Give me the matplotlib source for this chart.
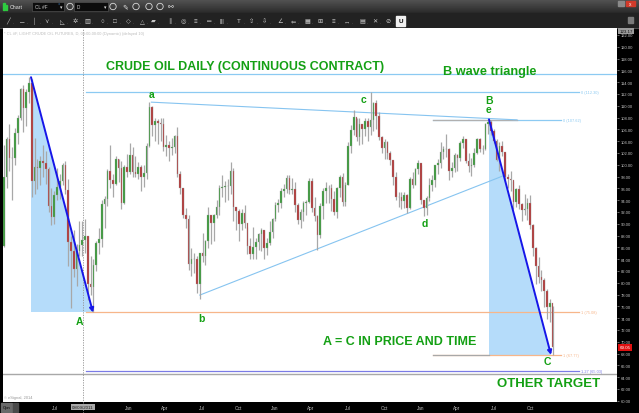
import matplotlib
matplotlib.use("Agg")
import matplotlib.pyplot as plt
import matplotlib.dates as mdates
import matplotlib.transforms as mtransforms
from matplotlib.patches import Rectangle, Polygon, Circle
import numpy as np
import pandas as pd

plt.rcParams["font.family"] = ["Liberation Sans", "DejaVu Sans"]

# ---- weekly bars (week ending Friday) ----
week_end = pd.date_range("2011-02-25", "2014-11-28", freq="W-FRI")
first_open = 86.20
closes = [
    # 2011
    97.88, 104.42, 101.16, 101.07, 105.40, 107.94, 112.79, 109.66, 112.29, 113.93,
    97.18, 99.65, 99.49, 100.59, 100.22, 99.29, 93.01, 91.16, 94.94, 96.20,
    97.24, 99.87, 95.70, 86.88, 85.38, 82.26, 85.37, 86.45, 87.24, 87.96,
    79.85, 79.20, 82.98, 86.80, 87.40, 93.32, 94.26, 98.99, 97.41, 96.77,
    100.96, 99.41, 93.53, 99.68, 98.83,
    # 2012
    101.56, 98.70, 98.46, 99.56, 97.84, 98.67, 103.24, 109.77, 106.70, 107.40,
    107.06, 106.87, 103.02, 103.31, 102.83, 103.05, 104.93, 98.49, 96.13, 91.48,
    90.86, 83.23, 84.10, 84.03, 79.76, 84.96, 84.45, 87.10, 91.44, 90.13,
    91.40, 92.87, 96.01, 96.15, 96.47, 96.42, 98.99, 92.89, 92.19, 89.88,
    91.86, 90.05, 86.28, 84.86, 86.07, 86.92, 88.28, 88.91, 85.93, 86.73,
    88.66, 90.80,
    # 2013
    93.09, 93.56, 95.56, 95.88, 97.77, 95.72, 95.86, 93.13, 90.68, 91.95,
    93.45, 93.71, 97.23, 92.70, 91.29, 88.01, 93.00, 95.61, 96.04, 96.02,
    94.15, 91.97, 96.03, 97.85, 93.69, 96.56, 103.22, 105.95, 108.05, 104.70,
    106.94, 106.03, 107.46, 106.42, 107.65, 110.53, 108.21, 104.67, 102.87, 103.84,
    102.02, 100.81, 97.85, 94.61, 94.60, 93.84, 94.84, 92.72, 97.65, 96.60,
    99.32, 100.32,
    # 2014
    93.96, 92.72, 94.37, 96.64, 97.49, 99.88, 100.30, 102.20, 102.59, 102.58,
    98.89, 99.46, 101.67, 101.14, 103.74, 104.30, 100.60, 99.76, 99.99, 102.02,
    104.35, 102.71, 102.66, 106.91, 107.26, 105.74, 104.06, 100.83, 103.13, 102.09,
    97.88, 97.65, 97.35, 93.65, 95.96, 93.29, 92.27, 92.41, 93.54, 89.74,
    85.82, 82.75, 81.01, 80.54, 78.65, 75.82, 76.51, 69.05,
]
highs = [
    103.41, 104.70, 106.95, 103.00, 106.20, 108.50, 113.00, 113.50, 112.80, 114.83,
    114.50, 104.60, 101.00, 101.50, 103.40, 102.40, 99.60, 96.00, 95.50, 99.50,
    98.50, 100.30, 100.60, 97.50, 88.00, 89.00, 86.50, 90.50, 90.50, 90.80,
    88.00, 84.50, 84.00, 87.00, 89.20, 94.00, 94.70, 99.20, 103.37, 98.40,
    101.50, 101.00, 100.60, 100.00, 101.80,
    103.74, 103.00, 101.50, 100.50, 100.00, 100.00, 103.60, 110.55, 110.00, 108.00,
    107.80, 108.00, 108.00, 105.00, 104.00, 104.50, 105.00, 106.40, 99.00, 96.00,
    92.60, 91.50, 85.80, 85.00, 84.50, 85.00, 88.40, 87.30, 92.90, 91.50,
    91.60, 94.00, 96.50, 98.30, 97.30, 97.50, 100.42, 99.40, 92.90, 92.50,
    92.50, 93.10, 89.50, 87.60, 89.50, 87.50, 88.50, 89.20, 89.00, 87.50,
    90.50, 91.00,
    93.70, 94.20, 96.00, 96.70, 98.20, 98.20, 97.80, 97.00, 93.50, 92.50,
    93.80, 94.00, 97.80, 97.80, 94.50, 91.50, 93.50, 96.00, 97.00, 96.50,
    96.80, 95.60, 96.20, 98.30, 98.60, 97.00, 103.80, 106.80, 109.30, 108.00,
    108.00, 106.90, 107.90, 108.00, 112.24, 110.70, 110.90, 108.90, 104.80, 104.30,
    104.00, 102.40, 100.70, 98.70, 95.30, 95.40, 95.40, 95.00, 97.90, 98.80,
    99.50, 100.80,
    100.00, 94.00, 94.70, 97.80, 98.20, 100.00, 101.00, 103.80, 103.10, 105.20,
    102.80, 100.50, 102.00, 101.80, 104.00, 104.90, 104.30, 101.90, 101.10, 102.80,
    104.60, 104.50, 103.40, 107.10, 107.68, 107.50, 106.00, 104.40, 103.90, 104.10,
    102.00, 98.40, 98.90, 97.20, 96.00, 96.50, 93.50, 95.00, 94.30, 94.90,
    90.00, 86.00, 84.40, 82.20, 80.80, 78.90, 77.20, 76.00,
]
lows = [
    86.00, 96.00, 98.90, 94.00, 100.00, 103.50, 107.50, 105.50, 106.50, 110.50,
    94.60, 95.00, 95.80, 96.50, 98.00, 96.80, 92.00, 89.70, 90.00, 94.00,
    94.20, 96.50, 95.10, 82.90, 75.71, 81.00, 79.50, 84.50, 84.50, 85.00,
    77.10, 78.00, 74.95, 82.00, 84.80, 86.00, 89.20, 93.00, 96.00, 94.60,
    96.50, 97.00, 92.50, 93.40, 98.00,
    98.50, 98.00, 98.00, 97.50, 95.50, 96.20, 97.50, 103.00, 104.90, 104.00,
    103.50, 104.00, 102.30, 101.50, 100.70, 101.60, 102.00, 98.00, 95.00, 91.00,
    89.20, 82.20, 81.20, 81.70, 78.20, 77.28, 83.50, 83.00, 85.90, 86.60,
    87.00, 91.00, 91.50, 94.50, 93.60, 94.00, 95.00, 90.50, 88.90, 87.00,
    89.00, 89.20, 84.90, 84.00, 84.00, 84.00, 85.50, 85.30, 84.00, 84.70,
    86.40, 87.60,
    90.50, 92.00, 92.70, 94.50, 95.20, 95.00, 95.00, 92.00, 90.00, 89.30,
    90.50, 91.50, 93.50, 92.00, 90.50, 85.60, 87.50, 90.80, 93.50, 93.50,
    92.10, 91.50, 91.00, 94.50, 93.00, 93.00, 96.50, 102.00, 105.00, 104.00,
    103.30, 103.50, 104.80, 104.00, 105.00, 105.70, 106.00, 104.20, 101.90, 101.00,
    100.90, 100.00, 96.50, 94.00, 92.80, 92.50, 92.70, 91.80, 92.50, 96.10,
    96.50, 98.50,
    93.40, 91.24, 91.50, 93.90, 95.50, 96.20, 98.50, 99.50, 101.00, 101.30,
    97.40, 97.90, 98.70, 98.90, 100.60, 102.80, 100.30, 98.70, 98.10, 99.60,
    101.80, 102.20, 101.80, 102.50, 105.20, 105.00, 103.60, 100.60, 99.00, 101.50,
    97.00, 96.00, 95.50, 92.50, 92.90, 92.50, 90.40, 91.50, 90.70, 89.10,
    84.60, 79.80, 80.00, 78.60, 75.80, 73.80, 73.30, 67.80,
]

# ---- wave annotation (date, price) ----
leg_a = [("2011-05-02", 114.83), ("2011-10-04", 74.95)]
leg_c = [("2014-06-20", 107.68), ("2014-11-22", 67.77)]
tri_upper = [("2012-02-27", 110.60), ("2014-08-29", 107.60)]
tri_lower = [("2012-06-27", 77.90), ("2014-07-25", 98.10)]
fib_levels = [  # price, start, end, label, colour
    (112.30, "2011-09-16", "2015-02-01", "0 (112.30)", "#8ccaf2"),
    (107.62, "2014-01-31", "2014-12-17", "0 (107.62)", "#8ccaf2"),
    (75.08, "2011-09-16", "2015-02-01", "1 (75.08)", "#f7b68a"),
    (67.77, "2014-01-31", "2014-12-17", "1 (67.77)", "#f7b68a"),
    (65.03, "2011-09-16", "2015-02-01", "1.27 (65.03)", "#7b7be6"),
]
top_line = 115.37
grey_line = 64.53
cursor_date = "2011-09-09"

GREEN = "#14a014"
W, H = 639, 414
L, R, T, B = 3, 617, 29, 403

d = lambda s: mdates.date2num(pd.Timestamp(s))

fig = plt.figure(figsize=(W / 100, H / 100), dpi=100, facecolor="black")
ov = fig.add_axes([0, 0, 1, 1], zorder=0)
ov.set_xlim(0, W); ov.set_ylim(H, 0); ov.axis("off")

# ---- toolbar ----
grad = np.linspace(0.33, 0.17, 30)[:, None]
ov.imshow(grad, cmap="gray", vmin=0, vmax=1, extent=(0, W, 14, 0), aspect="auto")
ov.add_patch(Rectangle((0, 14), W, 15, color="#222222"))
ov.plot([0, W], [28.5, 28.5], color="#555555", lw=0.6)
ov.add_patch(Rectangle((3, 4), 1.5, 7, color="#2ecc40"))
ov.add_patch(Rectangle((5.5, 6), 1.5, 5, color="#2ecc40"))
ov.text(10, 7.5, "Chart", color="#e8e8e8", fontsize=3.8, va="center")
for x0, x1, txt in [(32, 64, "CL #F"), (74, 108, "D")]:
    ov.add_patch(Rectangle((x0, 3), x1 - x0, 9, facecolor="#0c0c0c", edgecolor="#5a5a5a", lw=0.4))
    ov.text(x0 + 3, 7.5, txt, color="#cfcfcf", fontsize=3.3, va="center")
    ov.text(x1 - 3, 7.5, "▾", color="#dddddd", fontsize=3.5, va="center", ha="center")
ov.text(58, 6, "°", color="#4aa3ff", fontsize=4, va="center")
for cx in [70, 113, 136, 149, 160]:
    ov.add_patch(Circle((cx, 7.5), 3.2, facecolor="none", edgecolor="#d8d8d8", lw=0.6))
ov.text(125, 7.5, "✎", color="#e0e0e0", fontsize=5, va="center", ha="center")
ov.text(171, 7.5, "⚯", color="#e0e0e0", fontsize=5, va="center", ha="center")
ov.add_patch(Rectangle((618, 1.5), 6, 5, color="#8a8a8a"))
ov.add_patch(Rectangle((626, 1.5), 9, 5, color="#d23a2a"))
ov.text(630.5, 4, "x", color="white", fontsize=3.5, va="center", ha="center")

icons = ["╱", "─", "│", "⋎", "◺", "✲", "▥", "○", "□", "◇", "△", "▰", "∥", "◎",
         "≡", "═", "|||", "T", "⇧", "⇩", "∠", "⇐", "▦", "⊞", "≡", "↔", "▤", "✕", "⊘"]
icon_x = [8, 22, 35, 47, 62, 75, 87, 102, 115, 128, 142, 153, 170, 183,
          195, 209, 222, 239, 252, 265, 280, 293, 307, 320, 333, 347, 362, 375, 388]
for gx, g in zip(icon_x, icons):
    ov.text(gx, 21.5, g, color="#c8c8c8", fontsize=4.5, va="center", ha="center")
    ov.text(gx + 5, 23.5, ".", color="#a0a0a0", fontsize=3, va="center", ha="center")
ov.add_patch(Rectangle((396, 16.5), 9, 10, color="#f0f0f0"))
ov.text(400.5, 21.5, "U", color="black", fontsize=4.5, weight="bold", va="center", ha="center")
ov.add_patch(Rectangle((628, 18), 5, 6, color="#7a7a7a"))

# bottom left buttons
ov.add_patch(Rectangle((1, 404), 11, 9, color="#6a6a6a"))
ov.text(6.5, 408.5, "Opn", color="black", fontsize=3, va="center", ha="center")
ov.add_patch(Rectangle((13, 404), 5, 9, color="#4a4a4a"))

# ---- main pane ----
ax = fig.add_axes([L / W, 1 - B / H, (R - L) / W, (B - T) / H], zorder=2)
ax.set_facecolor("white")
ax.set_xlim(d("2011-02-21"), d("2015-05-06"))
ax.set_ylim(59.78, 123.17)
for s in ax.spines.values():
    s.set_visible(False)

# shaded time/price triangles
for leg in (leg_a, leg_c):
    (s0, p0), (s1, p1) = leg
    ax.add_patch(Polygon([(d(s0), p0), (d(s0), p1), (d(s1), p1)],
                         closed=True, facecolor="#b5dcfa", edgecolor="none", zorder=1))

# horizontal levels
ax.axhline(top_line, color="#8ccaf2", lw=0.9, zorder=2)
ax.axhline(grey_line, color="#a8a8a8", lw=1.0, zorder=2)
for price, s0, s1, lab, col in fib_levels:
    ax.plot([d(s0), d(s1)], [price, price], color=col, lw=0.9, zorder=2)
    ax.text(d(s1) + 5, price, lab, color=col, fontsize=2.8, va="center", ha="left")
ax.plot([d("2014-01-31"), d("2014-08-29")], [107.62, 107.62], color="#b0b0b0", lw=0.9, zorder=2)
ax.plot([d("2014-01-31"), d("2014-06-20")], [67.77, 67.77], color="#a8a8a8", lw=0.9, zorder=2)

# triangle boundaries
for (s0, p0), (s1, p1) in (tri_upper, tri_lower):
    ax.plot([d(s0), d(s1)], [p0, p1], color="#86c4f0", lw=0.8, zorder=2)

# cursor line + date box
ax.axvline(d(cursor_date), ymin=-0.03, ymax=1, color="#909090", lw=0.6,
           ls=(0, (1.5, 1.5)), clip_on=False, zorder=2)
bt = mtransforms.blended_transform_factory(ax.transData, ax.transAxes)
ax.text(d(cursor_date), -0.0135, pd.Timestamp(cursor_date).strftime("%m/%d/%Y"),
        transform=bt, fontsize=3.2, color="#222222", ha="center", va="center",
        bbox=dict(boxstyle="square,pad=0.25", fc="#a8a8a8", ec="none"), clip_on=False, zorder=6)

# candles
xc = mdates.date2num(week_end - pd.Timedelta(days=2))
c = np.array(closes)
o = np.array([first_open] + closes[:-1])
up = c >= o
ax.vlines(xc, lows, highs, color="#a8a8a8", lw=0.9, zorder=3)
ax.bar(xc, c - o, bottom=o, width=4.2, color=np.where(up, "#3a9a3a", "#b23838"),
       edgecolor="#a0a0a0", linewidth=0.2, zorder=4)

# wave arrows
for (s0, p0), (s1, p1) in (leg_a, leg_c):
    ax.annotate("", xy=(d(s1), p1), xytext=(d(s0), p0),
                arrowprops=dict(arrowstyle="-|>", color="#1616e8", lw=1.4,
                                mutation_scale=6, shrinkA=0, shrinkB=0), zorder=5)

# wave labels
lab_kw = dict(color=GREEN, fontsize=7.5, weight="bold", ha="center", va="center", zorder=6)
ax.text(d("2011-09-01"), 73.5, "A", **lab_kw)
ax.text(d("2012-02-28"), 112.0, "a", **lab_kw)
ax.text(d("2012-06-30"), 74.0, "b", **lab_kw)
ax.text(d("2013-08-11"), 111.1, "c", **lab_kw)
ax.text(d("2014-01-11"), 90.1, "d", **lab_kw)
ax.text(d("2014-06-20"), 111.0, "B", **lab_kw)
ax.text(d("2014-06-20"), 109.4, "e", **lab_kw)
ax.text(d("2014-11-12"), 66.7, "C", **lab_kw)


def pane(xp, yp):
    return ((xp - L) / (R - L), (B - yp) / (B - T))


txt_kw = dict(color=GREEN, weight="bold", ha="center", va="center", transform=ax.transAxes)
ax.text(*pane(245, 67), "CRUDE OIL DAILY (CONTINUOUS CONTRACT)", fontsize=9.0, **txt_kw)
ax.text(*pane(490, 72), "B wave triangle", fontsize=9.2, **txt_kw)
ax.text(*pane(400, 342), "A = C IN PRICE AND TIME", fontsize=9.0, **txt_kw)
ax.text(*pane(549, 384), "OTHER TARGET", fontsize=9.5, **txt_kw)
ax.text(*pane(4, 33.5), "* CL #F, LIGHT CRUDE OIL FUTURES, D, 08:00-00:00 (Dynamic) (delayed 10)",
        transform=ax.transAxes, fontsize=2.9, color="#bdbdbd", ha="left", va="center")
ax.text(*pane(4, 398), "© eSignal, 2014", transform=ax.transAxes, fontsize=2.9,
        color="#9a9a9a", ha="left", va="center")

# price axis
ax.yaxis.tick_right()
ax.set_yticks(np.arange(60, 123, 2))
ax.set_yticklabels([f"{v:.2f}" for v in np.arange(60, 123, 2)])
ax.tick_params(axis="y", labelsize=3.0, colors="#c4c4c4", length=1.5, width=0.4, pad=1.5)
rt = mtransforms.blended_transform_factory(ax.transAxes, ax.transData)
ax.text(1.004, c[-1], f"{c[-1]:.2f}", transform=rt, fontsize=3.2, color="white",
        ha="left", va="center", clip_on=False, zorder=7,
        bbox=dict(boxstyle="square,pad=0.35", fc="#e01010", ec="none"))
ytop = ax.get_ylim()[1]
ax.text(1.004, ytop - 0.5, f"{ytop:.2f}", transform=rt, fontsize=3.2, color="#111111",
        ha="left", va="center", clip_on=False, zorder=7,
        bbox=dict(boxstyle="square,pad=0.3", fc="#9c9c9c", ec="none"))

# time axis
months = pd.date_range("2011-07-01", "2014-10-01", freq="QS")
ax.set_xticks(mdates.date2num(months))
ax.set_xticklabels(["" if (m.year == 2011 and m.month == 10) else m.strftime("%b") for m in months])
ax.tick_params(axis="x", labelsize=3.3, colors="#c4c4c4", length=0, pad=2.5)

fig.savefig("out.png", dpi=100, facecolor="black")
